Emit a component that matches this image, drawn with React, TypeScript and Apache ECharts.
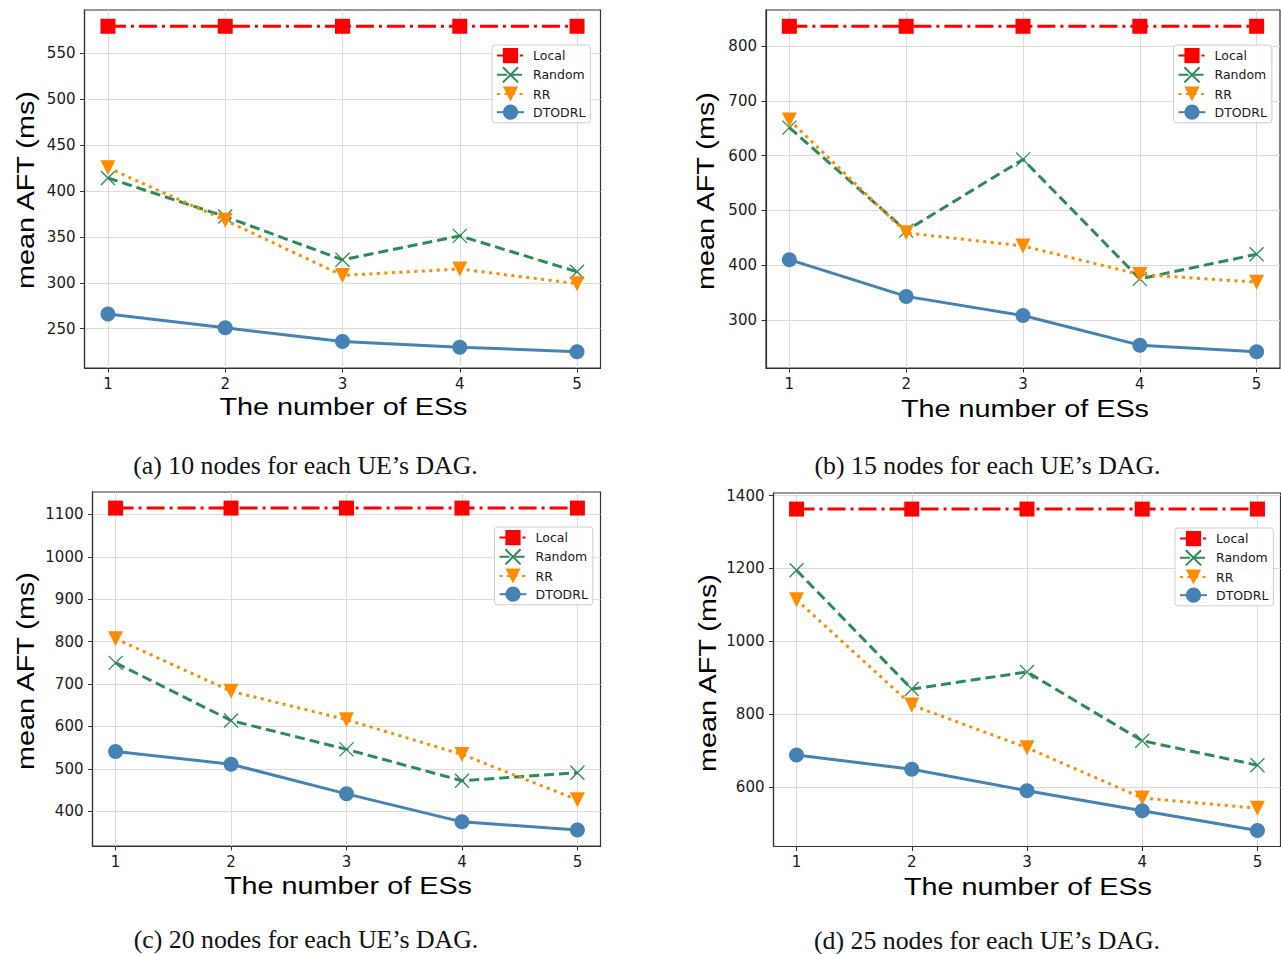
import React, { useEffect, useRef } from 'react';
import * as echarts from 'echarts';

// ---------- data ----------
const esCounts = [1, 2, 3, 4, 5];
const seriesNames = ['Local', 'Random', 'RR', 'DTODRL'];

// (a) 10 nodes
const localA = [579, 579, 579, 579, 579];
const randomA = [414, 372, 325, 351, 312];
const rrA = [425, 368, 308, 315, 299];
const dtodrlA = [266, 251, 236, 230, 225];

// (b) 15 nodes
const localB = [836, 836, 836, 836, 836];
const randomB = [651, 463, 593, 375, 420];
const rrB = [665, 459, 435, 383, 369];
const dtodrlB = [410, 343, 308, 254, 242];

// (c) 20 nodes
const localC = [1115, 1115, 1115, 1115, 1115];
const randomC = [750, 614, 546, 472, 491];
const rrC = [807, 683, 616, 534, 427];
const dtodrlC = [541, 511, 441, 375, 356];

// (d) 25 nodes
const localD = [1363, 1363, 1363, 1363, 1363];
const randomD = [1195, 869, 916, 727, 660];
const rrD = [1114, 825, 708, 570, 542];
const dtodrlD = [688, 649, 590, 535, 481];

const yTicksA = [250, 300, 350, 400, 450, 500, 550];
const yTicksB = [300, 400, 500, 600, 700, 800];
const yTicksC = [400, 500, 600, 700, 800, 900, 1000, 1100];
const yTicksD = [600, 800, 1000, 1200, 1400];

const xTitle = 'The number of ESs';
const yTitle = 'mean AFT (ms)';
const captions = [
  '(a) 10 nodes for each UE\u2019s DAG.',
  '(b) 15 nodes for each UE\u2019s DAG.',
  '(c) 20 nodes for each UE\u2019s DAG.',
  '(d) 25 nodes for each UE\u2019s DAG.',
];

// ---------- layout ----------
const panels = [
  {
    data: [localA, randomA, rrA, dtodrlA], yTicks: yTicksA,
    grid: { left: 84.5, top: 10, width: 516, height: 358 },
    legend: { left: 492, top: 45 },
    xt: [343.5, 407], yt: [26, 190], cap: [305.5, 465],
  },
  {
    data: [localB, randomB, rrB, dtodrlB], yTicks: yTicksB,
    grid: { left: 766, top: 10, width: 514, height: 358 },
    legend: { left: 1173.5, top: 45 },
    xt: [1025, 409], yt: [706, 191], cap: [987.5, 465],
  },
  {
    data: [localC, randomC, rrC, dtodrlC], yTicks: yTicksC,
    grid: { left: 92.5, top: 492, width: 508, height: 354 },
    legend: { left: 494.5, top: 527 },
    xt: [348, 886], yt: [26, 671], cap: [306, 939],
  },
  {
    data: [localD, randomD, rrD, dtodrlD], yTicks: yTicksD,
    grid: { left: 773.5, top: 493, width: 507, height: 353.5 },
    legend: { left: 1175, top: 528 },
    xt: [1028, 886.5], yt: [707.5, 673], cap: [987, 940],
  },
];

const styles = [
  { symbol: 'rect', size: 15, color: '#ff0000', dash: [18, 5, 3, 5] as any, rotate: 0, border: 0 },
  { symbol: 'path://M0,0L20,20M20,0L0,20', size: 14, color: '#2e8b57', dash: [10, 5] as any, rotate: 0, border: 1.3 },
  { symbol: 'triangle', size: 15, color: '#ff8c00', dash: [3, 4.5] as any, rotate: 180, border: 0 },
  { symbol: 'circle', size: 15, color: '#4682b4', dash: 'solid' as any, rotate: 0, border: 0 },
];

function paddedRange(arrs: number[][]): [number, number] {
  let lo = Infinity;
  let hi = -Infinity;
  arrs.forEach((a) => a.forEach((v) => { lo = Math.min(lo, v); hi = Math.max(hi, v); }));
  const m = (hi - lo) * 0.05;
  return [lo - m, hi + m];
}

const tickFont = { fontSize: 15, fontFamily: 'DejaVu Sans', color: '#1a1a1a' };

export default function App() {
  const ref = useRef<HTMLDivElement>(null);
  useEffect(() => {
    if (!ref.current) return;
    const chart = echarts.init(ref.current, undefined, { renderer: 'svg' });
    const grids: any[] = [];
    const xAxes: any[] = [];
    const yAxes: any[] = [];
    const legends: any[] = [];
    const series: any[] = [];
    const graphics: any[] = [];

    panels.forEach((p, i) => {
      grids.push({ ...p.grid, show: true, borderColor: '#333', borderWidth: 1.2, backgroundColor: 'transparent', containLabel: false });
      xAxes.push({
        type: 'value', gridIndex: i, min: 0.8, max: 5.2,
        axisLine: { show: true, lineStyle: { color: '#333', width: 1.2 } },
        axisTick: { show: true, length: 4.5, customValues: esCounts, lineStyle: { color: '#333', width: 1 } },
        axisLabel: { ...tickFont, margin: 8, customValues: esCounts, formatter: (v: number) => String(v) },
        splitLine: { show: true, lineStyle: { color: '#dcdcdc', width: 1 } },
      });
      const [lo, hi] = paddedRange(p.data);
      yAxes.push({
        type: 'value', gridIndex: i, min: lo, max: hi,
        axisLine: { show: true, lineStyle: { color: '#333', width: 1.2 } },
        axisTick: { show: true, length: 4.5, customValues: p.yTicks, lineStyle: { color: '#333', width: 1 } },
        axisLabel: { ...tickFont, margin: 9, customValues: p.yTicks, formatter: (v: number) => String(v) },
        splitLine: { show: true, lineStyle: { color: '#dcdcdc', width: 1 } },
      });
      legends.push({
        orient: 'vertical', left: p.legend.left, top: p.legend.top,
        data: seriesNames, itemWidth: 27, itemHeight: 19, itemGap: 3,
        padding: [3, 5, 3, 4], borderColor: '#cccccc', borderWidth: 1, borderRadius: 3,
        backgroundColor: 'rgba(255,255,255,0.85)',
        textStyle: { fontSize: 12.5, fontFamily: 'DejaVu Sans', color: '#1a1a1a', padding: [0, 0, 0, 4] },
        selectedMode: false,
      });
      p.data.forEach((vals, k) => {
        const s = styles[k];
        series.push({
          type: 'line', name: seriesNames[k], xAxisIndex: i, yAxisIndex: i,
          data: esCounts.map((x, j) => [x, vals[j]]),
          symbol: s.symbol, symbolSize: s.size, symbolRotate: s.rotate, showSymbol: true,
          itemStyle: { color: s.color, borderColor: s.color, borderWidth: s.border, opacity: 1 },
          lineStyle: { color: s.color, width: 3, type: s.dash },
          emphasis: { disabled: true },
          z: 2 + k,
        });
      });
      graphics.push({
        type: 'text', x: p.xt[0], y: p.xt[1], scaleX: 1.2,
        style: { text: xTitle, fontSize: 24, fontFamily: 'Liberation Sans', fill: '#000', align: 'center', verticalAlign: 'middle' },
      });
      graphics.push({
        type: 'text', x: p.yt[0], y: p.yt[1], scaleX: 1.2, rotation: Math.PI / 2,
        style: { text: yTitle, fontSize: 24, fontFamily: 'Liberation Sans', fill: '#000', align: 'center', verticalAlign: 'middle' },
      });
      graphics.push({
        type: 'text', x: p.cap[0], y: p.cap[1],
        style: { text: captions[i], fontSize: 25.8, lineHeight: 24, fontFamily: 'Liberation Serif', fill: '#111', align: 'center', verticalAlign: 'middle' },
      });
    });

    chart.setOption({
      animation: false,
      backgroundColor: '#ffffff',
      grid: grids, xAxis: xAxes, yAxis: yAxes, legend: legends, series, graphic: graphics,
    });
    return () => chart.dispose();
  }, []);
  return <div ref={ref} style={{ position: 'absolute', left: 0, top: 0, width: 1281, height: 954 }} />;
}
